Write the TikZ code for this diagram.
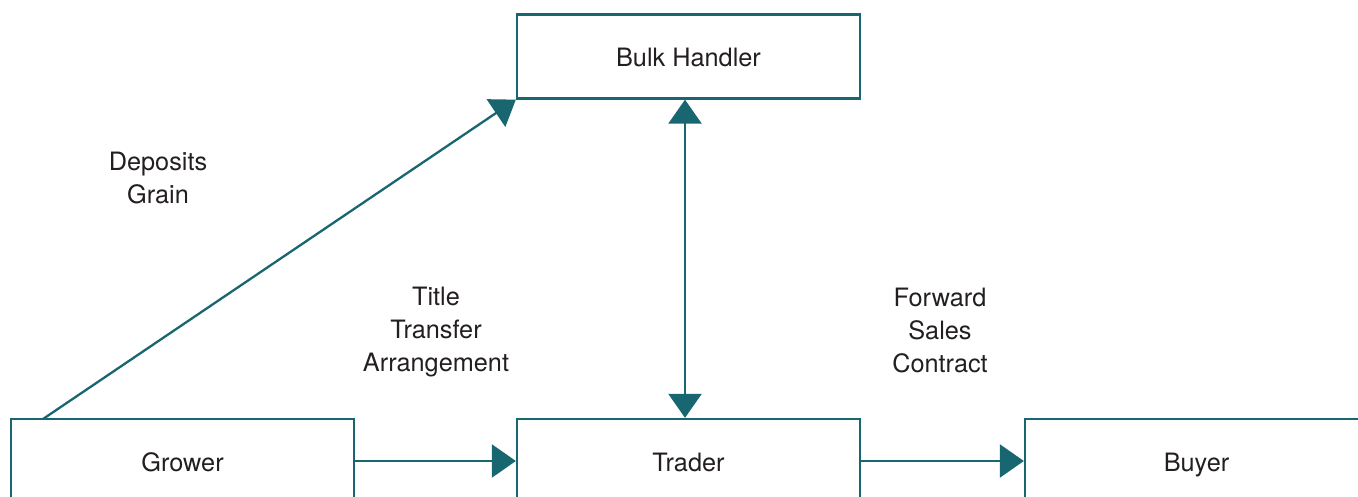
\documentclass[tikz,border=0pt]{standalone}
\usepackage{fontspec}
\setmainfont{TeX Gyre Heros}
\usetikzlibrary{arrows.meta}
\definecolor{flowteal}{RGB}{24,103,112}
\definecolor{labelgrey}{RGB}{35,31,32}
\tikzset{
  party/.style={draw=flowteal, line width=2.3pt, minimum width=343pt, minimum height=84pt, inner sep=0pt, text=labelgrey, text height=22pt, text depth=1pt},
  flow/.style={draw=flowteal, line width=2.3pt, -{Triangle[length=24pt,width=33pt]}, color=flowteal},
  note/.style={align=center, text=labelgrey, font=\fontsize{25.3}{33}\selectfont}
}
\begin{document}
\begin{tikzpicture}[x=1pt,y=-1pt,font=\fontsize{25.3}{30}\selectfont]
\useasboundingbox (0,0) rectangle (1358,497);
\clip (0,0) rectangle (1358,497);
\node[party] (bulk) at (688.5,56.5) {Bulk Handler};
\node[party] (grower) at (182.5,461) {Grower};
\node[party] (trader) at (688.5,461) {Trader};
\node[party] (buyer) at (1196.5,461) {Buyer};
\coordinate (deposit) at (43,419);
\draw[flow] (deposit) -- (bulk.south west);
\draw[flow, {Triangle[length=24pt,width=33pt]}-{Triangle[length=24pt,width=33pt]}] ([xshift=-3.5pt]bulk.south) -- ([xshift=-3.5pt]trader.north);
\draw[flow] (grower.east) -- (trader.west);
\draw[flow] (trader.east) -- (buyer.west);
\node[note] (deplabel) at (158,178.5) {Deposits\\Grain};
\node[note] (titlelabel) at (436,332.5) {Title\\Transfer\\Arrangement};
\node[note] (salelabel) at (940,331) {Forward\\Sales\\Contract};
\end{tikzpicture}
\end{document}
